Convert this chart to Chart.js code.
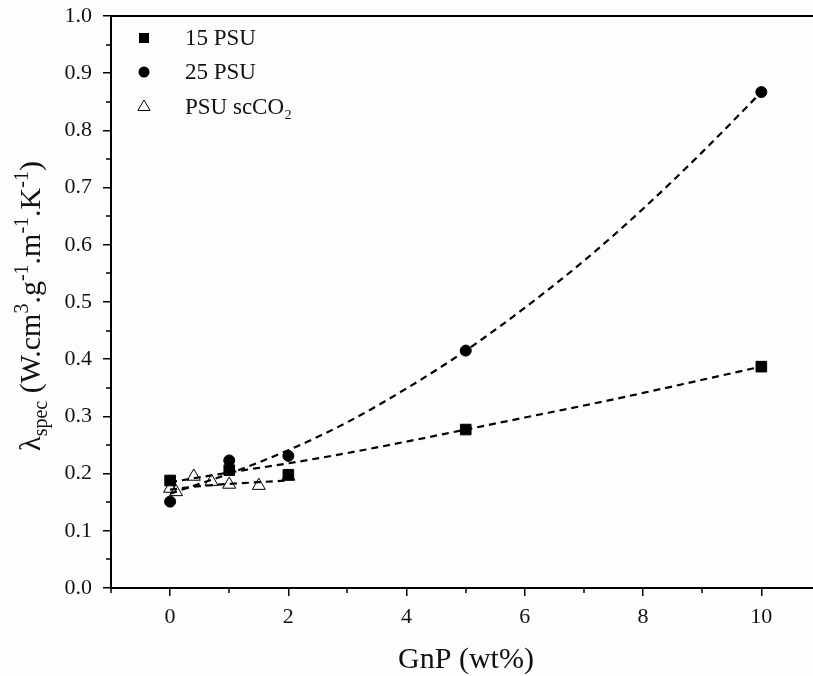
<!DOCTYPE html>
<html>
<head>
<meta charset="utf-8">
<script src="https://cdn.jsdelivr.net/npm/chart.js@4.4.1/dist/chart.umd.min.js"></script>
<style>
  html, body { margin: 0; padding: 0; background: #fdfdfd; overflow: hidden; }
  #wrap { width: 813px; height: 676px; overflow: hidden; }
  canvas { display: block; }
</style>
</head>
<body>
<div id="wrap"><canvas id="c" width="813" height="676" style="width:813px;height:676px"></canvas></div>
<script>
// ---- data ----
const seriesNames = ['15 PSU', '25 PSU', 'PSU scCO\u2082'];
// measured points
const x15 = [0, 1, 2, 5, 10];
const y15 = [0.188, 0.206, 0.198, 0.277, 0.387];
const x25 = [0, 1, 2, 5, 10];
const y25 = [0.151, 0.223, 0.231, 0.415, 0.867];
const xSc = [0, 0.1, 0.4, 0.7, 1, 1.5, 2];
const ySc = [0.174, 0.168, 0.195, 0.186, 0.181, 0.179, 0.195];
// dashed trend lines
const fitX = [0, 1, 2, 3, 4, 5, 6, 7, 8, 9, 10];
const fit15 = [0.185, 0.202, 0.218, 0.236, 0.256, 0.277, 0.298, 0.319, 0.341, 0.364, 0.387];
const fit25 = [0.165, 0.200, 0.241, 0.290, 0.349, 0.415, 0.490, 0.572, 0.663, 0.762, 0.867];
const fitScX = [0, 0.5, 1, 1.5, 2];
const fitSc = [0.172, 0.178, 0.182, 0.185, 0.188];
// ticks
const xMajorTicks = [0, 2, 4, 6, 8, 10];
const xMinorTicks = [-1, 1, 3, 5, 7, 9];
const yMajorTicks = [0, 0.1, 0.2, 0.3, 0.4, 0.5, 0.6, 0.7, 0.8, 0.9, 1.0];
const yMinorTicks = [0.05, 0.15, 0.25, 0.35, 0.45, 0.55, 0.65, 0.75, 0.85, 0.95];
const xTitle = 'GnP (wt%)';

const FONT = '"Liberation Serif", "DejaVu Serif", serif';

function pts(xs, ys) { return xs.map((x, i) => ({ x: x, y: ys[i] })); }

function fitLine(label, xs, ys) {
  return {
    label: label, data: pts(xs, ys), showLine: true, order: 5,
    borderColor: '#000', borderWidth: 2.2, borderDash: [7, 5],
    cubicInterpolationMode: 'monotone', pointRadius: 0, pointHoverRadius: 0
  };
}
function marks(label, xs, ys, style, r, fill) {
  return {
    label: label, data: pts(xs, ys), showLine: false, order: 1,
    pointStyle: style, pointRadius: r, pointHoverRadius: r,
    pointBackgroundColor: fill, pointBorderColor: '#000', pointBorderWidth: 1
  };
}

const extras = {
  id: 'extras',
  beforeDraw(chart) {
    const ctx = chart.ctx;
    ctx.save();
    ctx.fillStyle = '#fdfdfd';
    ctx.fillRect(0, 0, chart.width, chart.height);
    ctx.restore();
  },
  afterDraw(chart) {
    const ctx = chart.ctx;
    const a = chart.chartArea;
    const xs = chart.scales.x, ys = chart.scales.y;
    ctx.save();
    ctx.strokeStyle = '#000';
    ctx.lineWidth = 2;
    ctx.beginPath();
    // top frame line and continuation of the x axis to the picture edge
    ctx.moveTo(a.left - 1, a.top);
    ctx.lineTo(chart.width, a.top);
    ctx.moveTo(a.right - 1, a.bottom);
    ctx.lineTo(chart.width, a.bottom);
    ctx.stroke();
    ctx.lineWidth = 1.5;
    ctx.beginPath();
    xMinorTicks.forEach(v => {
      const px = Math.round(xs.getPixelForValue(v));
      ctx.moveTo(px, a.bottom); ctx.lineTo(px, a.bottom + 5);
    });
    yMinorTicks.forEach(v => {
      const py = Math.round(ys.getPixelForValue(v));
      ctx.moveTo(a.left, py); ctx.lineTo(a.left - 5, py);
    });
    ctx.stroke();

    ctx.fillStyle = '#111';
    ctx.font = '30px ' + FONT;
    ctx.textAlign = 'center';
    ctx.textBaseline = 'alphabetic';
    ctx.fillText(xTitle, 466, 668);

    const segs = [
      { t: '\u03bb', s: 30, dy: 0 },
      { t: 'spec', s: 20, dy: 7 },
      { t: ' (W.cm', s: 30, dy: 0 },
      { t: '3', s: 20, dy: -12 },
      { t: '.g', s: 30, dy: 0 },
      { t: '-1', s: 20, dy: -12 },
      { t: '.m', s: 30, dy: 0 },
      { t: '-1', s: 20, dy: -12 },
      { t: '.K', s: 30, dy: 0 },
      { t: '-1', s: 20, dy: -12 },
      { t: ')', s: 30, dy: 0 }
    ];
    let total = 0;
    segs.forEach(sg => { ctx.font = sg.s + 'px ' + FONT; sg.w = ctx.measureText(sg.t).width; total += sg.w; });
    ctx.translate(40, 306);
    ctx.rotate(-Math.PI / 2);
    ctx.textAlign = 'left';
    let cx = -total / 2;
    segs.forEach(sg => {
      ctx.font = sg.s + 'px ' + FONT;
      ctx.fillText(sg.t, cx, sg.dy);
      cx += sg.w;
    });
    ctx.restore();

    ctx.save();
    const rows = [38, 72, 107];
    const lx = 144;
    ctx.fillStyle = '#000';
    ctx.strokeStyle = '#000';
    ctx.lineWidth = 1;
    ctx.fillRect(lx - 5, rows[0] - 5, 10, 10);
    ctx.beginPath(); ctx.arc(lx, rows[1], 5.5, 0, Math.PI * 2); ctx.fill();
    ctx.beginPath();
    const r = 7;
    ctx.moveTo(lx, rows[2] - r);
    ctx.lineTo(lx + r * 0.866, rows[2] + r * 0.5);
    ctx.lineTo(lx - r * 0.866, rows[2] + r * 0.5);
    ctx.closePath(); ctx.stroke();
    ctx.fillStyle = '#111';
    ctx.font = '23px ' + FONT;
    ctx.textAlign = 'left';
    ctx.textBaseline = 'middle';
    seriesNames.forEach((n, i) => ctx.fillText(n, 185, rows[i] + 1));
    ctx.restore();
  }
};

new Chart(document.getElementById('c'), {
  type: 'scatter',
  data: {
    datasets: [
      marks(seriesNames[0], x15, y15, 'rect', 7.5, '#000'),
      marks(seriesNames[1], x25, y25, 'circle', 5.5, '#000'),
      marks(seriesNames[2], xSc, ySc, 'triangle', 7.5, 'rgba(0,0,0,0)'),
      fitLine(seriesNames[0] + ' trend', fitX, fit15),
      fitLine(seriesNames[1] + ' trend', fitX, fit25),
      fitLine(seriesNames[2] + ' trend', fitScX, fitSc)
    ]
  },
  options: {
    responsive: false,
    animation: false,
    layout: { padding: { top: 16, right: 0, left: 0, bottom: 0 } },
    plugins: { legend: { display: false }, tooltip: { enabled: false } },
    scales: {
      x: {
        type: 'linear', min: -1, max: 10.73,
        afterBuildTicks: s => { s.ticks = xMajorTicks.map(v => ({ value: v })); },
        afterFit: s => { s.height = 88; s.paddingLeft = 0; s.paddingRight = 0; },
        grid: { drawOnChartArea: false, drawTicks: true, tickLength: 8, color: '#000', lineWidth: 1.5 },
        border: { display: true, color: '#000', width: 2 },
        ticks: { color: '#111', font: { family: FONT, size: 22 }, padding: 8, maxRotation: 0,
                 callback: v => String(v) }
      },
      y: {
        type: 'linear', min: 0, max: 1,
        afterBuildTicks: s => { s.ticks = yMajorTicks.map(v => ({ value: v })); },
        afterFit: s => { s.width = 111; s.paddingTop = 0; s.paddingBottom = 0; },
        grid: { drawOnChartArea: false, drawTicks: true, tickLength: 8, color: '#000', lineWidth: 1.5 },
        border: { display: true, color: '#000', width: 2 },
        ticks: { color: '#111', font: { family: FONT, size: 22 }, padding: 11,
                 callback: v => Number(v).toFixed(1) }
      }
    }
  },
  plugins: [extras]
});
</script>
</body>
</html>
